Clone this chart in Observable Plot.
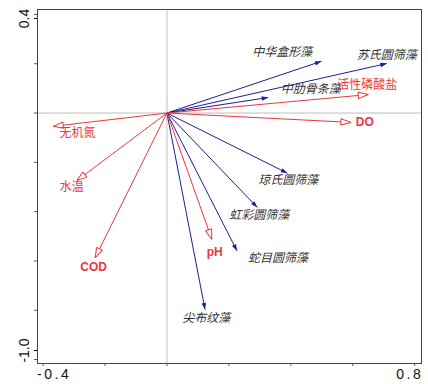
<!DOCTYPE html>
<html><head><meta charset="utf-8">
<script src="https://cdn.jsdelivr.net/npm/d3@7"></script>
<script src="https://cdn.jsdelivr.net/npm/@observablehq/plot@0.6"></script>
<style>
body{margin:0;background:#fff}
g[aria-label="cn-labels"] text{letter-spacing:3.2px}
g[aria-label="sp-labels"] text{letter-spacing:3.2px}
g[aria-label="abbr-labels"] text{letter-spacing:1.5px}
g[aria-label="x-axis tick label"] text{letter-spacing:2.5px}
</style>
</head><body><div id="chart"></div>
<script>
// Environmental factors (red, open heads)
const envNames  = ["无机氮", "水温", "COD", "pH", "DO", "活性磷酸盐"];
const envX      = [-0.367, -0.291, -0.232, 0.145, 0.594, 0.650];
const envY      = [-0.054, -0.274, -0.587, -0.512, -0.038, 0.075];
const envLabelX = [-0.289, -0.307, -0.237, 0.154, 0.639, 0.647];
const envLabelY = [-0.080, -0.302, -0.626, -0.563, -0.038, 0.113];
const envAbbr   = ["COD", "pH", "DO"];

// Species (blue, filled heads)
const spNames  = ["中华盒形藻", "苏氏圆筛藻", "中肋骨条藻", "琼氏圆筛藻", "虹彩圆筛藻", "蛇目圆筛藻", "尖布纹藻"];
const spX      = [0.499, 0.710, 0.327, 0.389, 0.292, 0.226, 0.123];
const spY      = [0.210, 0.201, 0.063, -0.244, -0.383, -0.559, -0.797];
const spLabelX = [0.372, 0.710, 0.464, 0.392, 0.298, 0.359, 0.127];
const spLabelY = [0.248, 0.235, 0.096, -0.274, -0.416, -0.589, -0.831];

// Axes
const xTicks = [-0.4, -0.2, 0, 0.2, 0.4, 0.6, 0.8];
const yTicks = [-1.0, -0.8, -0.6, -0.4, -0.2, 0, 0.2, 0.4];
const xLabelLeft = [-0.4], xLabelRight = [0.8];
const yLabelTop = [0.4], yLabelBottom = [-1.0];
const zeroLine = [0];

const RED = "#e8383d", BLUE = "#1e1e8e";

const env = envNames.map((n, i) => ({n, x: envX[i], y: envY[i], lx: envLabelX[i], ly: envLabelY[i]}));
const sp = spNames.map((n, i) => ({n, x: spX[i], y: spY[i], lx: spLabelX[i], ly: spLabelY[i]}));

function mk(pathD, fill, stroke) {
  return (color, context) => {
    const doc = (context && context.document) || document;
    const m = doc.createElementNS("http://www.w3.org/2000/svg", "marker");
    m.setAttribute("markerUnits", "userSpaceOnUse");
    m.setAttribute("markerWidth", 20);
    m.setAttribute("markerHeight", 20);
    m.setAttribute("refX", 0);
    m.setAttribute("refY", 0);
    m.setAttribute("orient", "auto");
    m.setAttribute("overflow", "visible");
    const p = doc.createElementNS("http://www.w3.org/2000/svg", "path");
    p.setAttribute("d", pathD);
    p.setAttribute("fill", fill === "color" ? color : fill);
    p.setAttribute("stroke", stroke === "color" ? color : stroke);
    p.setAttribute("stroke-width", 1);
    m.appendChild(p);
    return m;
  };
}
const openTri = mk("M0,0L-10,-3.2L-10,3.2Z", "white", "color");
const fillTri = mk("M0,0L-6.5,-2.3L-6.5,2.3Z", "color", "none");

const plot = Plot.plot({
  width: 428,
  height: 384,
  marginLeft: 37,
  marginRight: 7,
  marginTop: 9,
  marginBottom: 21,
  x: {domain: [-0.418, 0.822], axis: null},
  y: {domain: [-1.016, 0.420], axis: null},
  style: {fontFamily: "'Liberation Sans', Arial, sans-serif", background: "#fff"},
  marks: [
    Plot.ruleX(zeroLine, {stroke: "#bdbdbd", strokeWidth: 1}),
    Plot.ruleY(zeroLine, {stroke: "#bdbdbd", strokeWidth: 1}),
    Plot.frame({stroke: "#444", strokeWidth: 1}),
    Plot.axisX(xTicks, {anchor: "bottom", tickSize: 3, tickFormat: () => "", stroke: "#555"}),
    Plot.axisY(yTicks, {anchor: "left", tickSize: 3, tickFormat: () => "", stroke: "#555"}),
    Plot.axisX(xLabelLeft, {anchor: "bottom", tickSize: 0, tickFormat: d => d.toFixed(1), fontSize: 14, textAnchor: "start", lineAnchor: "middle", dx: -6, dy: 2.5, fill: "#111"}),
    Plot.axisX(xLabelRight, {anchor: "bottom", tickSize: 0, tickFormat: d => d.toFixed(1), fontSize: 14, textAnchor: "end", lineAnchor: "middle", dx: 8.5, dy: 2.5, fill: "#111"}),
    Plot.axisY(yLabelTop, {anchor: "left", tickSize: 3, tickRotate: -90, tickFormat: d => d.toFixed(1), fontSize: 14, dy: 4, fill: "#111"}),
    Plot.axisY(yLabelBottom, {anchor: "left", tickSize: 3, tickRotate: -90, tickFormat: d => d.toFixed(1), fontSize: 14, dy: -9, fill: "#111"}),
    Plot.link(sp, {x1: () => 0, y1: () => 0, x2: "x", y2: "y", stroke: BLUE, strokeWidth: 1, markerEnd: fillTri}),
    Plot.link(env, {x1: () => 0, y1: () => 0, x2: "x", y2: "y", stroke: RED, strokeWidth: 1, markerEnd: openTri}),
    Plot.text(sp, {x: "lx", y: "ly", text: "n", fill: "#333", fontSize: 12, fontStyle: "italic",
      fontFamily: "'Noto Sans CJK SC', sans-serif", textAnchor: "middle", lineAnchor: "middle", ariaLabel: "sp-labels"}),
    Plot.text(env.filter(d => !envAbbr.includes(d.n)), {x: "lx", y: "ly", text: "n", fill: RED, fontSize: 12,
      fontFamily: "'Noto Sans CJK SC', sans-serif", textAnchor: "middle", lineAnchor: "middle", ariaLabel: "cn-labels"}),
    Plot.text(env.filter(d => envAbbr.includes(d.n)), {x: "lx", y: "ly", text: "n", fill: RED, fontSize: 12, fontWeight: "bold",
      fontFamily: "'Liberation Sans', Arial, sans-serif", textAnchor: "middle", lineAnchor: "middle", ariaLabel: "abbr-labels"})
  ]
});
document.getElementById("chart").appendChild(plot);
</script>
</body></html>
